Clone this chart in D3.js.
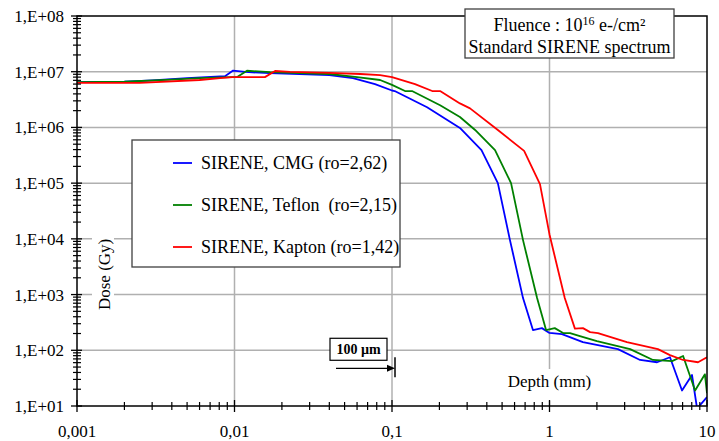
<!DOCTYPE html>
<html>
<head>
<meta charset="utf-8">
<script src="https://cdn.jsdelivr.net/npm/d3@7"></script>
<style>
  body { margin: 0; background: #fff; }
</style>
</head>
<body>
<div id="chart"></div>
<script>
// depth in mm, dose in Gy
const cmgDepth = [0.001, 0.002, 0.003, 0.005, 0.0087, 0.0098, 0.0117, 0.0168, 0.040, 0.0565, 0.078, 0.1, 0.104,
    0.167, 0.27, 0.37, 0.47, 0.561, 0.679, 0.785, 0.895, 1.0, 1.2, 1.63, 2.03, 2.72, 3.76, 4.82, 5.82, 6.94, 8.03, 8.65, 10];
const cmgDose = [6.5e6, 6.6e6, 7.0e6, 7.7e6, 8.3e6, 1.05e7, 9.9e6, 9.4e6, 8.7e6, 7.7e6, 6.0e6, 4.6e6, 4.5e6,
    2.3e6, 9.8e5, 3.9e5, 1.0e5, 9.5e3, 865, 231, 250, 205, 195, 140, 124, 105, 67, 61, 75, 19, 36, 9, 14.5];

const teflonDepth = [0.001, 0.002, 0.004, 0.006, 0.0095, 0.0104, 0.012, 0.0168, 0.040, 0.060, 0.084, 0.1, 0.121, 0.134,
    0.202, 0.27, 0.337, 0.451, 0.57, 0.679, 0.834, 0.951, 1.08, 1.22, 1.35, 1.56, 2.0, 3.25, 4.54, 6.0, 7.05, 8.4, 9.7, 10];
const teflonDose = [6.5e6, 6.6e6, 7.2e6, 7.7e6, 8.0e6, 8.0e6, 1.04e7, 9.8e6, 9.1e6, 8.0e6, 7.1e6, 5.8e6, 4.5e6, 4.5e6,
    2.5e6, 1.54e6, 9.0e5, 3.9e5, 1.0e5, 9.5e3, 865, 231, 250, 204, 204, 180, 146, 105, 67, 64, 79, 19, 37, 17];

const kaptonDepth = [0.001, 0.0025, 0.006, 0.0081, 0.0097, 0.0156, 0.0181, 0.0225, 0.040, 0.063, 0.084, 0.1, 0.14, 0.18, 0.202,
    0.27, 0.313, 0.47, 0.69, 0.87, 1.0, 1.25, 1.45, 1.63, 1.81, 2.03, 3.1, 4.88, 5.82, 7.05, 8.77, 10];
const kaptonDose = [6.3e6, 6.3e6, 7.1e6, 7.7e6, 8.0e6, 8.0e6, 1.03e7, 9.9e6, 9.5e6, 9.1e6, 8.7e6, 8.0e6, 6.0e6, 4.5e6, 4.5e6,
    2.7e6, 2.2e6, 9.0e5, 3.8e5, 9.6e4, 1.2e4, 865, 245, 250, 212, 204, 140, 105, 82, 67, 61, 75];

const seriesNames = ["SIRENE, CMG (ro=2,62)", "SIRENE, Teflon  (ro=2,15)", "SIRENE, Kapton (ro=1,42)"];
const seriesColors = ["#0000ff", "#008000", "#ff0000"];

const xTicks = [0.001, 0.01, 0.1, 1, 10];
const xTickLabels = ["0,001", "0,01", "0,1", "1", "10"];
const yTicks = [1e1, 1e2, 1e3, 1e4, 1e5, 1e6, 1e7, 1e8];
const yTickLabels = ["1,E+01", "1,E+02", "1,E+03", "1,E+04", "1,E+05", "1,E+06", "1,E+07", "1,E+08"];

const W = 719, H = 441;
const margin = { top: 16, right: 12, bottom: 35, left: 77 };
const width = W - margin.left - margin.right;
const height = H - margin.top - margin.bottom;

const svg = d3.select("#chart").append("svg")
    .attr("width", W)
    .attr("height", H)
    .attr("font-family", "'Liberation Serif', 'DejaVu Serif', serif")
    .style("display", "block");

const g = svg.append("g")
    .attr("transform", `translate(${margin.left},${margin.top})`);

const x = d3.scaleLog().domain([0.001, 10]).range([0, width]);
const y = d3.scaleLog().domain([10, 1e8]).range([height, 0]);

// minor tick values (2..9 in every decade)
const minorX = [];
for (let e = -3; e < 1; e++) for (let k = 2; k <= 9; k++) minorX.push(k * Math.pow(10, e));
const minorY = [];
for (let e = 1; e < 8; e++) for (let k = 2; k <= 9; k++) minorY.push(k * Math.pow(10, e));

// GRID
g.append("g")
    .selectAll("line")
    .data(yTicks.slice(1, -1))
    .join("line")
    .attr("x1", 0).attr("x2", width)
    .attr("y1", d => y(d)).attr("y2", d => y(d))
    .attr("stroke", "#b0b0b0").attr("stroke-width", 1.5);

g.append("g")
    .selectAll("line")
    .data(xTicks.slice(1, -1))
    .join("line")
    .attr("y1", 0).attr("y2", height)
    .attr("x1", d => x(d)).attr("x2", d => x(d))
    .attr("stroke", "#b0b0b0").attr("stroke-width", 1.5);

// axis titles with white background
const doseLabel = g.append("g")
    .attr("transform", `translate(29,${y(2.3e3)}) rotate(-90)`);
doseLabel.append("rect")
    .attr("x", -42).attr("y", -14).attr("width", 84).attr("height", 22)
    .attr("fill", "#fff");
doseLabel.append("text")
    .attr("text-anchor", "middle")
    .attr("y", 4)
    .attr("font-size", "17px")
    .text("Dose (Gy)");

const depthLabel = g.append("g")
    .attr("transform", `translate(${x(1)},${y(10) - 19})`);
depthLabel.append("rect")
    .attr("x", -46).attr("y", -18).attr("width", 92).attr("height", 32)
    .attr("fill", "#fff");
depthLabel.append("text")
    .attr("text-anchor", "middle")
    .attr("y", 0)
    .attr("font-size", "17px")
    .text("Depth (mm)");

// CURVES
g.append("clipPath").attr("id", "plot-clip")
    .append("rect").attr("width", width).attr("height", height);

const line = d3.line()
    .x(d => x(d[0]))
    .y(d => y(d[1]));

const series = [
    d3.zip(cmgDepth, cmgDose),
    d3.zip(teflonDepth, teflonDose),
    d3.zip(kaptonDepth, kaptonDose)
];

g.append("g")
    .attr("clip-path", "url(#plot-clip)")
    .selectAll("path")
    .data(series)
    .join("path")
    .attr("d", line)
    .attr("fill", "none")
    .attr("stroke", (d, i) => seriesColors[i])
    .attr("stroke-width", 1.8)
    .attr("stroke-linejoin", "round");

// FRAME
g.append("rect")
    .attr("width", width).attr("height", height)
    .attr("fill", "none")
    .attr("stroke", "#000").attr("stroke-width", 1.5);

// AXES
const yAxis = g.append("g").attr("class", "y-axis");
yAxis.selectAll("line.major")
    .data(yTicks)
    .join("line")
    .attr("class", "major")
    .attr("x1", -6).attr("x2", 5)
    .attr("y1", d => y(d)).attr("y2", d => y(d))
    .attr("stroke", "#000").attr("stroke-width", 1.3);
yAxis.selectAll("line.minor")
    .data(minorY)
    .join("line")
    .attr("class", "minor")
    .attr("x1", -4).attr("x2", 4)
    .attr("y1", d => y(d)).attr("y2", d => y(d))
    .attr("stroke", "#000").attr("stroke-width", 1.2);
yAxis.selectAll("text")
    .data(yTicks)
    .join("text")
    .attr("x", -13)
    .attr("y", d => y(d) + 6)
    .attr("text-anchor", "end")
    .attr("font-size", "17px")
    .text((d, i) => yTickLabels[i]);

const xAxis = g.append("g").attr("class", "x-axis")
    .attr("transform", `translate(0,${height})`);
xAxis.selectAll("line.major")
    .data(xTicks)
    .join("line")
    .attr("class", "major")
    .attr("x1", d => x(d)).attr("x2", d => x(d))
    .attr("y1", -6).attr("y2", 6)
    .attr("stroke", "#000").attr("stroke-width", 1.3);
xAxis.selectAll("line.minor")
    .data(minorX)
    .join("line")
    .attr("class", "minor")
    .attr("x1", d => x(d)).attr("x2", d => x(d))
    .attr("y1", -4).attr("y2", 4)
    .attr("stroke", "#000").attr("stroke-width", 1.2);
xAxis.selectAll("text")
    .data(xTicks)
    .join("text")
    .attr("x", d => x(d))
    .attr("y", 31)
    .attr("text-anchor", "middle")
    .attr("font-size", "17px")
    .text((d, i) => xTickLabels[i]);

// LEGEND
const legend = svg.append("g").attr("transform", "translate(132,140)");
legend.append("rect")
    .attr("width", 268).attr("height", 127)
    .attr("fill", "#fff")
    .attr("stroke", "#404040").attr("stroke-width", 1.3);
const legendItems = legend.selectAll(".legend-item")
    .data(seriesNames)
    .join("g")
    .attr("class", "legend-item")
    .attr("transform", (d, i) => `translate(0,${23 + i * 42})`);
legendItems.append("line")
    .attr("x1", 41).attr("x2", 60)
    .attr("stroke", (d, i) => seriesColors[i])
    .attr("stroke-width", 1.8);
legendItems.append("text")
    .attr("x", 69).attr("y", 6)
    .attr("font-size", "18px")
    .style("white-space", "pre")
    .text(d => d);

// FLUENCE BOX
const fl = svg.append("g").attr("transform", "translate(465,9)");
fl.append("rect")
    .attr("width", 209).attr("height", 49)
    .attr("fill", "#fff")
    .attr("stroke", "#404040").attr("stroke-width", 1.3);
const t1 = fl.append("text")
    .attr("x", 104.5).attr("y", 22)
    .attr("text-anchor", "middle")
    .attr("font-size", "18px");
t1.append("tspan").text("Fluence : 10");
t1.append("tspan").attr("dy", -6).attr("font-size", "12px").text("16");
t1.append("tspan").attr("dy", 6).text(" e-/cm²");
fl.append("text")
    .attr("x", 104.5).attr("y", 44)
    .attr("text-anchor", "middle")
    .attr("font-size", "18px")
    .text("Standard SIRENE spectrum");

// 100 µm ANNOTATION
const ann = g.append("g");
const ax = x(0.1) + 3;
const ay = y(100) + 18;
ann.append("rect")
    .attr("x", ax - 65).attr("y", y(100) - 12)
    .attr("width", 57).attr("height", 22)
    .attr("fill", "#fff")
    .attr("stroke", "#000").attr("stroke-width", 1.2);
ann.append("text")
    .attr("x", ax - 36.5).attr("y", y(100) + 4)
    .attr("text-anchor", "middle")
    .attr("font-size", "14px")
    .attr("font-weight", "bold")
    .text("100 µm");
ann.append("line")
    .attr("x1", ax - 59).attr("x2", ax - 6)
    .attr("y1", ay).attr("y2", ay)
    .attr("stroke", "#000").attr("stroke-width", 1.2);
ann.append("path")
    .attr("d", `M${ax},${ay} l-8,-3.5 l0,7 z`)
    .attr("fill", "#000");
ann.append("line")
    .attr("x1", ax).attr("x2", ax)
    .attr("y1", ay - 11).attr("y2", ay + 9)
    .attr("stroke", "#000").attr("stroke-width", 1.5);
</script>
</body>
</html>
